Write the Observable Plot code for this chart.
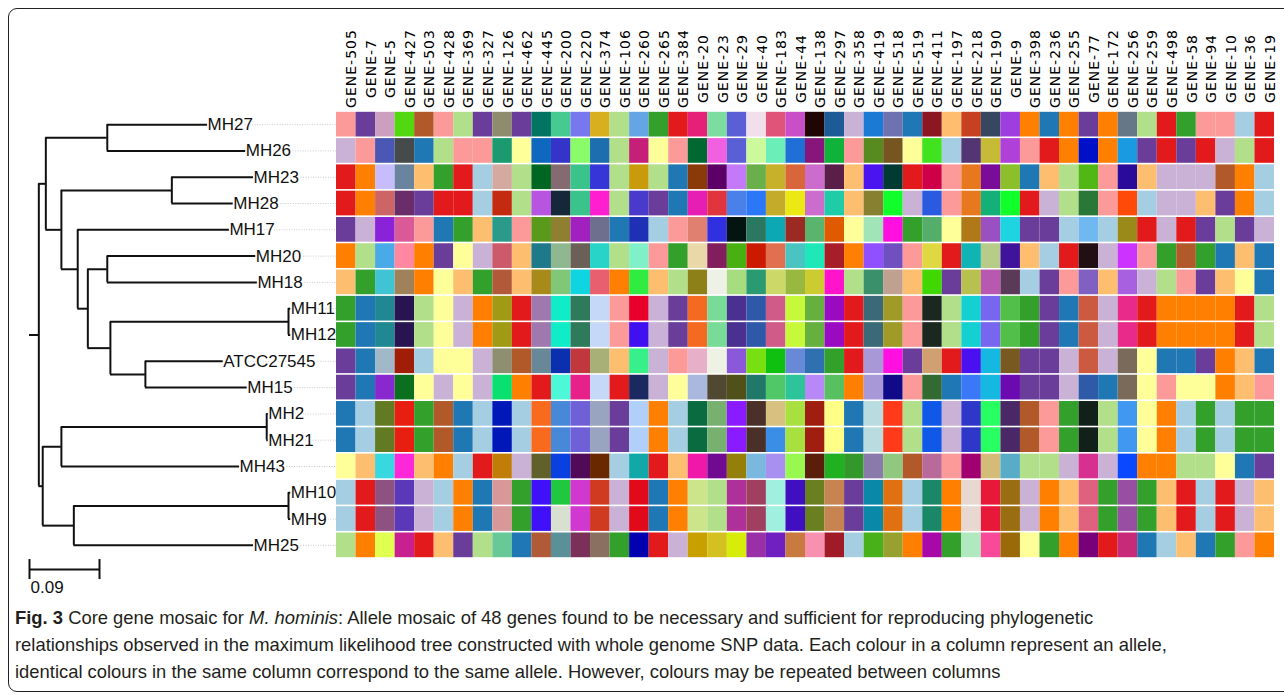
<!DOCTYPE html>
<html><head><meta charset="utf-8">
<script src="https://cdn.jsdelivr.net/npm/d3@7"></script>
<script src="https://cdn.jsdelivr.net/npm/@observablehq/plot@0.6"></script>
<style>
html,body{margin:0;padding:0;background:#fff;overflow:hidden;}
#wrap{position:relative;width:1284px;height:695px;overflow:hidden;}
#frame{position:absolute;left:8px;top:8px;width:1290px;height:684px;border:1.5px solid #222;border-radius:9px;box-sizing:border-box;}
.layer{position:absolute;left:0;top:0;}
#caption{position:absolute;left:15px;top:604px;font-family:"Liberation Sans",Arial,sans-serif;font-size:18.4px;line-height:27px;color:#231f20;white-space:nowrap;}
#caption span{display:block;}
</style></head><body>
<div id="wrap">
  <div id="frame"></div>
  <div id="tree" class="layer"></div>
  <div id="mosaic" class="layer"></div>
  <div id="caption">
    <span><b>Fig. 3</b> Core gene mosaic for <i>M. hominis</i>: Allele mosaic of 48 genes found to be necessary and sufficient for reproducing phylogenetic</span>
    <span>relationships observed in the maximum likelihood tree constructed with whole genome SNP data. Each colour in a column represent an allele,</span>
    <span>identical colours in the same column correspond to the same allele. However, colours may be repeated between columns</span>
  </div>
</div>
<script>
// ---------- data ----------
const strains = ["MH27","MH26","MH23","MH28","MH17","MH20","MH18","MH11","MH12","ATCC27545","MH15","MH2","MH21","MH43","MH10","MH9","MH25"];

const genes = ["GENE-505","GENE-7","GENE-5","GENE-427","GENE-503","GENE-428","GENE-369","GENE-327","GENE-126","GENE-462","GENE-445","GENE-200",
"GENE-220","GENE-374","GENE-106","GENE-260","GENE-265","GENE-384","GENE-20","GENE-23","GENE-29","GENE-40","GENE-183","GENE-44",
"GENE-138","GENE-297","GENE-358","GENE-419","GENE-518","GENE-519","GENE-411","GENE-197","GENE-218","GENE-190","GENE-9","GENE-398",
"GENE-236","GENE-255","GENE-77","GENE-172","GENE-256","GENE-259","GENE-498","GENE-58","GENE-94","GENE-10","GENE-36","GENE-19"];

// allele colours per strain (one entry per gene, same order as genes)
const allelesMH27 = ["#fb9a99","#6a3d9a","#cc9fc1","#52d80e","#b15928","#fb9a99","#b2df8a","#6a3d9a","#8f8b6e","#6a3d9a","#017561","#47c992",
"#7777f0","#d8b01f","#b2df8a","#65a5e6","#33a02c","#e31a1c","#e61f78","#7ddda0","#5a5fd6","#f1dfec","#df5478","#c94fc9",
"#200505","#1c5b96","#cab2d6","#1b7bd4","#6f72b0","#1f78b4","#8c1621","#fdbf6f","#c7401f","#374760","#9e3ee0","#ff7f00",
"#1f78b4","#ff7f00","#6a3d9a","#ff7f00","#667788","#b2df8a","#e31a1c","#33a02c","#fb9a99","#fb9a99","#a6cee3","#e31a1c"];
const allelesMH26 = ["#cab2d6","#fb9a99","#4b57b5","#454b4a","#1f78b4","#b2df8a","#fb9a99","#fb9a99","#1b9a70","#ffff99","#0f68c0","#3434c9",
"#8afc6a","#1d6eaf","#b2df8a","#c51f78","#ffff99","#fb9a99","#006830","#f060e0","#5a5fd6","#ccf99c","#6ceeb8","#206fd6",
"#88167a","#10b33a","#fb9a99","#588b1f","#775520","#ffff99","#41e21e","#a6cee3","#523572","#c6bb36","#b041d8","#fb9a99",
"#e31a1c","#ff7f00","#0010c8","#ff7f00","#1a9ae0","#6a3d9a","#e31a1c","#6a3d9a","#e31a1c","#cab2d6","#b2df8a","#e31a1c"];
const allelesMH23 = ["#e31a1c","#ff7f00","#c8bdfc","#6a84a0","#fdbf6f","#33a02c","#e31a1c","#a6cee3","#d4a9a0","#b2df8a","#006622","#856a72",
"#3ac48c","#3535d8","#b2df8a","#c89a0c","#b2df8a","#1f78b4","#8a3a08","#5c0068","#c47af8","#6ab04a","#c7b02a","#d9663a",
"#cc6ccc","#5a1e48","#fdbf6f","#4a14f0","#003a33","#e31a1c","#d00048","#fb9a99","#e8781e","#7a0c9a","#8cc02a","#1f78b4",
"#fdbf6f","#b2df8a","#50b814","#fb9a99","#2a0a98","#fdbf6f","#cab2d6","#cab2d6","#cab2d6","#b15928","#ff7f00","#a6cee3"];
const allelesMH28 = ["#e31a1c","#ff7f00","#cc6666","#6a2d6a","#6a3d9a","#e31a1c","#e31a1c","#a6cee3","#c42a10","#b2df8a","#b855e0","#14283a",
"#3ac48c","#ff1ed0","#b2df8a","#4a3acb","#6a3d9a","#1f78b4","#e61eb4","#e0353f","#4a80ea","#2a78f8","#c4ac2a","#ece814",
"#cc6ccc","#1ecca8","#fdbf6f","#868030","#10ff2a","#cab2d6","#2a5ae0","#fb9a99","#e8781e","#14b078","#10ff2a","#e31a1c",
"#cab2d6","#b2df8a","#2a7838","#fb9a99","#ff4a0a","#a6cee3","#cab2d6","#cab2d6","#fdbf6f","#6a3d9a","#ff7f00","#a6cee3"];
const allelesMH17 = ["#6a3d9a","#cab2d6","#8a22d8","#da5a98","#fb9a99","#1f78b4","#33a02c","#fdbf6f","#2a9a8a","#fb9a99","#5a9a1a","#8e8030",
"#a020c0","#6e6e8e","#1f78b4","#1e30b4","#a6cee3","#fb9a99","#e08070","#3030e0","#041410","#2a7860","#0ca8b4","#9a2a22",
"#5ab46e","#e05a00","#ffff99","#a0e4b8","#ff10e0","#33a02c","#55ad6a","#ffff99","#b07818","#9a50c0","#1ed4e0","#6a3d9a",
"#6a3d9a","#a6cee3","#70b8f0","#a6cee3","#9a8a1a","#e31a1c","#cab2d6","#e31a1c","#6a3d9a","#b2df8a","#6a3d9a","#cab2d6"];
const allelesMH20 = ["#ff7f00","#b2df8a","#4aaae8","#ff88a0","#ff7f00","#6a3d9a","#ffff99","#cab2d6","#cc5a6a","#fdbf6f","#1e7a8a","#90b890",
"#6a6058","#28d4c8","#b2df8a","#80f0c8","#fb9a99","#33a02c","#ead8a8","#821e5e","#48b010","#cc1a00","#e07050","#4ac4c0",
"#1ee8b8","#a81e28","#ff7f00","#9050ff","#7050c0","#fb9a99","#e0d840","#e31a1c","#10b4b4","#b8cc8a","#40149a","#fdbf6f",
"#a6cee3","#e31a1c","#201014","#cab2d6","#cc33ff","#fb9a99","#33a02c","#b15928","#33a02c","#1f78b4","#fdbf6f","#1f78b4"];
const allelesMH18 = ["#fdbf6f","#33a02c","#40c4d4","#a0825a","#ff7f00","#ffff99","#fdbf6f","#33a02c","#b15938","#fdbf6f","#a88a1a","#80c878",
"#10d4e0","#e86070","#ff7f00","#30ec40","#fdbf6f","#b2df8a","#8e8018","#eef2e6","#a8dc80","#2a9a70","#ccd868","#98b840",
"#cccc30","#ff14cc","#b2df8a","#3a906a","#c0a090","#fdbf6f","#40d800","#6a3d9a","#b8c050","#b858b0","#5a3a58","#a6cee3",
"#6a3d9a","#fb9a99","#8060c0","#fdbf6f","#a860e0","#cab2d6","#b2df8a","#fb9a99","#6a3d9a","#fdbf6f","#ffff99","#1f78b4"];
const allelesMH11 = ["#33a02c","#1f78b4","#208890","#281450","#b2df8a","#ffff99","#cab2d6","#ff7f00","#a09a14","#e31a1c","#a078b0","#10ecc8",
"#2e7a5a","#c6d8f8","#fb9a99","#e8002a","#cab2d6","#6a3d9a","#f46a20","#78dc98","#4a3090","#3058a8","#d05a88","#c8f83a",
"#66b040","#9a0ac0","#e31a1c","#3a6a78","#a09a28","#fb9a99","#1a2820","#b2df8a","#14d0d0","#7866f0","#50c048","#33a02c",
"#6a3d9a","#1f78b4","#cc5a40","#cab2d6","#e82a8a","#e31a1c","#ff7f00","#ff7f00","#ff7f00","#ff7f00","#e31a1c","#b2df8a"];
const allelesMH12 = ["#33a02c","#1f78b4","#208890","#281450","#b2df8a","#ffff99","#cab2d6","#ff7f00","#a09a14","#e31a1c","#a078b0","#10ecc8",
"#2e7a5a","#c6d8f8","#fb9a99","#4010f0","#cab2d6","#6a3d9a","#f46a20","#78dc98","#4a3090","#3058a8","#d05a88","#c8f83a",
"#66b040","#9a0ac0","#e31a1c","#3a6a78","#a09a28","#fb9a99","#1a2820","#b2df8a","#14d0d0","#7866f0","#50c048","#33a02c",
"#6a3d9a","#1f78b4","#cc5a40","#cab2d6","#e82a8a","#e31a1c","#ff7f00","#ff7f00","#ff7f00","#ff7f00","#e31a1c","#b2df8a"];
const allelesATCC27545 = ["#6a3d9a","#1f78b4","#a0b8c8","#a01e08","#a6cee3","#ffff99","#ffff99","#cab2d6","#8e8e70","#b15928","#688898","#0a30b0",
"#c0383e","#a8b078","#fdbf6f","#38f08a","#cab2d6","#fb9a99","#e8b0c8","#eef2e4","#8a58d8","#78e010","#10c010","#6888d8",
"#2e70b0","#33a02c","#e31a1c","#a898d8","#ff10e0","#6a3d9a","#d0a070","#e31a1c","#4a10f0","#14b8e0","#785a20","#6a3d9a",
"#6a3d9a","#cab2d6","#cc5a40","#cab2d6","#7a6a5a","#ffff99","#1f78b4","#1f78b4","#6a3d9a","#ff7f00","#fdbf6f","#1f78b4"];
const allelesMH15 = ["#6a3d9a","#1f78b4","#8a28d0","#0a7020","#ffff99","#cab2d6","#ffff99","#cab2d6","#08e070","#ff7f00","#e31a1c","#4cf8d8",
"#e8208a","#c6d8f8","#e31a1c","#1a2a60","#cab2d6","#ffff99","#aab8e0","#504830","#50501a","#207868","#50c868","#2ec49a",
"#b888f8","#58c060","#ff7f00","#a898d8","#100a88","#fb9a99","#326a32","#1f78b4","#3a78f8","#14b8e0","#6a0ab0","#6a3d9a",
"#6a3d9a","#cab2d6","#2e5aa8","#1f78b4","#7a6a5a","#ffff99","#fb9a99","#ffff99","#ffff99","#ff7f00","#fdbf6f","#fb9a99"];
const allelesMH2 = ["#1f78b4","#a6cee3","#627a22","#e81e10","#33a02c","#b15928","#1f78b4","#a6cee3","#0018b8","#a6cee3","#fa6a1e","#4888d8",
"#7060d8","#98a4c0","#6a3d9a","#b0d0fa","#ff7f00","#a6cee3","#0a6a40","#78b070","#8a1aff","#4a3028","#d8c080","#a8e040",
"#a01e10","#ffff88","#1f78b4","#b8dce0","#ff3a1a","#b2df8a","#1058e8","#cab2d6","#2e38c8","#28ff60","#4a2868","#b15928",
"#fb9a99","#33a02c","#12201a","#b2df8a","#4098f0","#ffff99","#ff7f00","#a6cee3","#33a02c","#a6cee3","#33a02c","#33a02c"];
const allelesMH21 = ["#1f78b4","#a6cee3","#627a22","#e81e10","#33a02c","#b15928","#1f78b4","#a6cee3","#0018b8","#a6cee3","#fa6a1e","#4888d8",
"#7060d8","#98a4c0","#6a3d9a","#b0d0fa","#ff7f00","#a6cee3","#0a6a40","#78b070","#8a1aff","#4a3028","#3a8ee6","#a8e040",
"#a01e10","#ffff88","#1f78b4","#b8dce0","#ff3a1a","#b2df8a","#1058e8","#cab2d6","#2e38c8","#28ff60","#4a2868","#b15928",
"#fb9a99","#33a02c","#12201a","#b2df8a","#4098f0","#ffff99","#ff7f00","#a6cee3","#33a02c","#a6cee3","#33a02c","#33a02c"];
const allelesMH43 = ["#ffff99","#fdbf6f","#38d8e0","#ff28d8","#fdbf6f","#ff7f00","#a6cee3","#e31a1c","#c07e08","#cab2d6","#60602a","#0a40e0",
"#500a58","#6a2800","#a6cee3","#10a8a8","#e31a1c","#fdbf6f","#f018a8","#700a90","#948008","#7ab8e0","#a890f0","#98f850",
"#5a1e0a","#20b020","#33982a","#8a7aac","#90c880","#b15928","#b86a9a","#fb9a99","#a00070","#d4bc78","#58acc8","#b2df8a",
"#b2df8a","#cab2d6","#d83090","#cab2d6","#0a48ff","#ff7f00","#ff7f00","#b2df8a","#b2df8a","#ffff99","#1f78b4","#6a3d9a"];
const allelesMH10 = ["#a6cee3","#e31a1c","#8e5280","#5a38b8","#cab2d6","#a6cee3","#ff7f00","#1f78b4","#d89898","#33a02c","#4010f8","#20c840",
"#d038d0","#d03a20","#cab2d6","#e00a1a","#1f78b4","#ff7f00","#cce48a","#b2df8a","#b0309a","#a04060","#a0f0e0","#4010c0",
"#6a8020","#c88450","#6a3d9a","#0a88a8","#e07010","#a6cee3","#1a8868","#ff7f00","#e8d8d0","#e8183a","#9a6e10","#cab2d6",
"#ff7f00","#fdbf6f","#e06080","#33a02c","#984ea3","#33a02c","#fdbf6f","#e31a1c","#a6cee3","#e31a1c","#cab2d6","#fdbf6f"];
const allelesMH9 = ["#a6cee3","#e31a1c","#8e5280","#5a38b8","#cab2d6","#a6cee3","#ff7f00","#1f78b4","#d89898","#33a02c","#4010f8","#d8e0d0",
"#d038d0","#d03a20","#cab2d6","#e00a1a","#1f78b4","#ff7f00","#cce48a","#b2df8a","#b0309a","#a04060","#a0f0e0","#4010c0",
"#6a8020","#c88450","#6a3d9a","#0a88a8","#e07010","#a6cee3","#1a8868","#ff7f00","#e8d8d0","#e8183a","#9a6e10","#cab2d6",
"#ff7f00","#fdbf6f","#e06080","#33a02c","#984ea3","#33a02c","#fdbf6f","#e31a1c","#a6cee3","#e31a1c","#cab2d6","#fdbf6f"];
const allelesMH25 = ["#b2df8a","#ff7f00","#e0ff50","#c82090","#e31a1c","#fdbf6f","#6a3d9a","#b2df8a","#68c898","#1f78b4","#b05a38","#5a9098",
"#7a3058","#8a7060","#33a02c","#0000b0","#e31a1c","#cab2d6","#c8a000","#d4c020","#d8ec0a","#9a30a8","#7020c0","#c87a40",
"#f890b0","#a01a28","#a6cee3","#48b018","#98a030","#ff7f00","#a808a8","#33a02c","#b0e8c0","#f84a98","#9a6a08","#ffff99",
"#33a02c","#ff7f00","#780078","#e31a1c","#c82a7a","#1f78b4","#a6cee3","#fdbf6f","#1f78b4","#33a02c","#fb9a99","#ff7f00"];

// phylogenetic tree: node, parent, distance from root (substitutions/site)
const nodeIds     = ["stem","root","A","A1","MH27","MH26","A2","A2a","MH23","MH28","A2b","MH17","A2c","A2d","MH20","MH18","A2e","A2f","MH11","MH12","A2g","ATCC27545","MH15","B","B1","B1a","MH2","MH21","MH43","B2","B2a","MH10","MH9","MH25"];
const nodeParents = [null,"stem","root","A","A1","A1","A","A2","A2a","A2a","A2","A2b","A2b","A2c","A2d","A2d","A2c","A2e","A2f","A2f","A2e","A2g","A2g","root","B","B1","B1a","B1a","B1","B","B2","B2a","B2a","B2"];
const nodeDepths  = [0,0.012,0.021,0.100,0.229,0.278,0.041,0.183,0.288,0.262,0.062,0.257,0.075,0.100,0.291,0.293,0.104,0.333,0.336,0.336,0.149,0.249,0.280,0.017,0.041,0.305,0.307,0.307,0.270,0.057,0.333,0.336,0.336,0.288];

const scaleBarLength = 0.09;

// ---------- build ----------
const alleleRows = [allelesMH27,allelesMH26,allelesMH23,allelesMH28,allelesMH17,allelesMH20,allelesMH18,allelesMH11,allelesMH12,
  allelesATCC27545,allelesMH15,allelesMH2,allelesMH21,allelesMH43,allelesMH10,allelesMH9,allelesMH25];
const cells = strains.flatMap((s, i) => alleleRows[i].map((c, j) => ({strain: s, gene: genes[j], color: c})));

const nodes = nodeIds.map((id, i) => ({id, parent: nodeParents[i], depth: nodeDepths[i], children: []}));
const byId = new Map(nodes.map(n => [n.id, n]));
nodes.forEach(n => { if (n.parent) byId.get(n.parent).children.push(n); });
function yOf(n) {
  if (n.y !== undefined) return n.y;
  if (n.children.length === 0) n.y = strains.indexOf(n.id);
  else { const ys = n.children.map(yOf); n.y = (Math.min(...ys) + Math.max(...ys)) / 2; }
  return n.y;
}
nodes.forEach(yOf);
const leaves = nodes.filter(n => n.children.length === 0);
const horiz = nodes.filter(n => n.parent).map(n => ({x1: byId.get(n.parent).depth, x2: n.depth, y: n.y}));
const vert = nodes.filter(n => n.children.length > 1).map(n => ({x: n.depth, y1: Math.min(...n.children.map(c => c.y)), y2: Math.max(...n.children.map(c => c.y))}));

const W = 1284, H = 600, top_ = 111, bottom_ = 42, mosaicLeft = 336, treeLeft = 29;
const pxPerUnit = 777.8;
const treeEnd = (mosaicLeft - treeLeft) / pxPerUnit;
const scaleBarRow = 16.92;

const treePlot = Plot.plot({
  width: W, height: H,
  marginLeft: treeLeft, marginRight: W - mosaicLeft, marginTop: top_, marginBottom: bottom_,
  x: {domain: [0, treeEnd], axis: null},
  y: {domain: [-0.5, strains.length - 0.5], reverse: true, axis: null},
  style: {background: "none", overflow: "visible"},
  marks: [
    Plot.ruleY(leaves, {y: "y", x1: "depth", x2: () => treeEnd, stroke: "#c8c8c8", strokeWidth: 1, strokeDasharray: "1,1.5"}),
    Plot.ruleY(horiz, {y: "y", x1: "x1", x2: "x2", stroke: "#111", strokeWidth: 2}),
    Plot.ruleX(vert, {x: "x", y1: "y1", y2: "y2", stroke: "#111", strokeWidth: 2}),
    Plot.text(leaves, {x: "depth", y: "y", text: "id", textAnchor: "start", dx: 0, fontSize: 17,
      fontFamily: "'Liberation Sans', Arial, sans-serif", fill: "#111", stroke: "white", strokeWidth: 3, paintOrder: "stroke"}),
    Plot.ruleY([scaleBarLength], {y: () => scaleBarRow, x1: () => 0, x2: d => d, stroke: "#111", strokeWidth: 2}),
    Plot.ruleX([0, scaleBarLength], {x: d => d, y1: () => scaleBarRow - 0.38, y2: () => scaleBarRow + 0.38, stroke: "#111", strokeWidth: 2}),
    Plot.text([scaleBarLength], {x: () => 0, y: () => scaleBarRow + 0.7, text: d => d.toFixed(2), textAnchor: "start", dx: 1,
      fontSize: 17, fontFamily: "'Liberation Sans', Arial, sans-serif", fill: "#111"})
  ]
});
document.getElementById("tree").appendChild(treePlot);

const mosaicPlot = Plot.plot({
  width: W, height: H,
  marginLeft: mosaicLeft, marginRight: 10, marginTop: top_, marginBottom: bottom_,
  x: {domain: genes, padding: 0, round: false, axis: null},
  y: {domain: strains, padding: 0, round: false, axis: null},
  color: {type: "identity"},
  style: {background: "none", overflow: "visible", letterSpacing: "1px"},
  marks: [
    Plot.cell(cells, {x: "gene", y: "strain", fill: "color", insetTop: 0.8, insetBottom: 0.8}),
    Plot.text(genes, {x: d => d, text: d => d, frameAnchor: "top", dy: -43, rotate: -90, textAnchor: "middle",
      fontSize: 14, fontFamily: "'DejaVu Sans', sans-serif", fill: "#000"})
  ]
});
document.getElementById("mosaic").appendChild(mosaicPlot);
</script>
</body></html>
